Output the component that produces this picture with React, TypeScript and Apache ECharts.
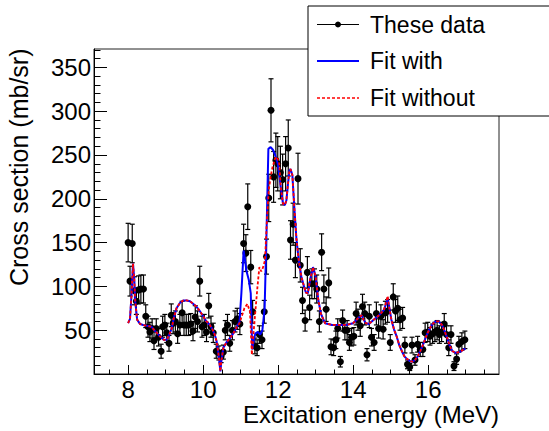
import React, { useEffect, useRef } from "react";
import * as echarts from "echarts";

// Measured data points: excitation energy (MeV), cross section (mb/sr), error
const energy = [8.0, 8.05, 8.11, 8.17, 8.22, 8.28, 8.34, 8.41, 8.47, 8.53, 8.58, 8.64, 8.69, 8.75, 8.81, 8.88, 8.92, 8.98,
  9.03, 9.09, 9.15, 9.2, 9.26, 9.32, 9.38, 9.44, 9.49, 9.55, 9.61, 9.67, 9.73, 9.79, 9.85, 9.91, 9.97,
  10.03, 10.09, 10.15, 10.21, 10.27, 10.35, 10.42, 10.48, 10.54, 10.59, 10.65, 10.71, 10.78, 10.85, 10.91, 10.98,
  11.08, 11.14, 11.19, 11.27, 11.32, 11.38, 11.44, 11.5, 11.57, 11.63, 11.69, 11.75, 11.81, 11.88, 11.94, 11.99,
  12.06, 12.12, 12.2, 12.27, 12.33, 12.4, 12.46, 12.53, 12.59, 12.65, 12.72, 12.78, 12.84, 12.9, 12.97,
  13.03, 13.1, 13.16, 13.22, 13.28, 13.35, 13.41, 13.48, 13.54, 13.59, 13.66, 13.72, 13.78, 13.84, 13.9, 13.96,
  14.02, 14.08, 14.13, 14.19, 14.25, 14.31, 14.37, 14.43, 14.49, 14.56, 14.62, 14.68, 14.74, 14.8, 14.86, 14.92, 14.99,
  15.07, 15.13, 15.19, 15.25, 15.32, 15.38, 15.45, 15.51, 15.57, 15.65, 15.72, 15.79, 15.86, 15.92, 15.99,
  16.05, 16.12, 16.18, 16.24, 16.3, 16.36, 16.43, 16.49, 16.55, 16.61, 16.69, 16.76, 16.82, 16.9, 16.98];

const crossSection = [150, 106, 149, 95, 83, 96, 97, 97, 66, 54, 48, 52, 38, 52, 42, 26, 54, 56,
  47, 35, 67, 58, 60, 46, 56, 70, 56, 56, 56, 57, 49, 65, 60, 106, 54,
  56, 48, 78, 54, 47, 26, 24, 20, 25, 50, 56, 35, 50, 60, 63, 57,
  149, 138, 191, 122, 71, 32, 30, 45, 39, 71, 134, 201, 301, 225, 244, 240,
  230, 222, 240, 258, 153, 171, 130, 223, 124, 84, 61, 116, 76, 103, 103,
  97, 60, 139, 97, 74, 104, 31, 30, 39, 52, 14, 61, 50, 50, 36, 42,
  43, 69, 62, 55, 77, 69, 22, 66, 42, 36, 69, 52, 66, 51, 70, 72, 36,
  88, 72, 75, 62, 64, 33, 11, 8, 33, 16, 34, 28, 28, 47, 48,
  43, 46, 48, 50, 45, 48, 57, 45, 30, 45, 9, 17, 34, 37, 39];

const crossSectionErr = [22, 17, 22, 16, 15, 16, 16, 16, 13, 12, 11, 11, 10, 11, 10, 8, 12, 12,
  11, 9, 13, 12, 12, 11, 12, 13, 12, 12, 12, 12, 11, 13, 12, 17, 12,
  12, 11, 14, 12, 11, 8, 8, 7, 8, 11, 12, 9, 11, 12, 12, 12,
  22, 21, 26, 19, 13, 9, 9, 10, 10, 13, 20, 27, 36, 29, 31, 31,
  30, 29, 31, 32, 22, 24, 20, 29, 19, 15, 12, 18, 14, 17, 17,
  16, 12, 21, 16, 14, 17, 9, 9, 10, 11, 6, 12, 11, 11, 9, 10,
  10, 13, 12, 12, 14, 13, 7, 13, 10, 9, 13, 11, 13, 11, 13, 13, 9,
  15, 13, 14, 12, 12, 9, 5, 4, 9, 6, 9, 8, 8, 11, 11,
  10, 11, 11, 11, 10, 11, 12, 10, 9, 10, 5, 6, 9, 10, 10];

// Fit with (blue)
const fitWithE = [8.0, 8.05, 8.09, 8.13, 8.16, 8.19, 8.24, 8.32, 8.4, 8.5, 8.62, 8.72, 8.85, 8.95, 9.02, 9.08, 9.16, 9.22, 9.29, 9.38,
  9.47, 9.56, 9.65, 9.74, 9.82, 9.91, 10.0, 10.09, 10.18, 10.25, 10.31, 10.36, 10.4, 10.43, 10.46, 10.49, 10.54, 10.62, 10.7, 10.8,
  10.89, 10.97, 11.02, 11.08, 11.16, 11.22, 11.27, 11.31, 11.35, 11.39, 11.46, 11.52, 11.58, 11.64, 11.69, 11.74, 11.8, 11.86, 11.92, 11.99,
  12.07, 12.13, 12.18, 12.22, 12.26, 12.3, 12.33, 12.38, 12.43, 12.49, 12.55, 12.62, 12.69, 12.74, 12.79, 12.86, 12.93, 13.0, 13.07, 13.14,
  13.25, 13.44, 13.81, 14.0, 14.14, 14.23, 14.28, 14.34, 14.42, 14.55, 14.69, 14.82, 14.88, 14.92, 14.96, 15.02, 15.09, 15.16, 15.23, 15.3,
  15.37, 15.44, 15.51, 15.58, 15.65, 15.72, 15.79, 15.86, 15.93, 16.0, 16.07, 16.14, 16.21, 16.28, 16.37, 16.44, 16.51, 16.58, 16.65, 16.74,
  16.81, 16.88, 16.94, 17.0];
const fitWithV = [58, 63, 90, 126, 110, 83, 62, 57, 56, 55, 54, 49, 43, 39, 39, 43, 52, 64, 75, 81,
  84, 84, 83, 80, 77, 72, 66, 60, 56, 51, 45, 37, 26, 15, 3, 16, 30, 36, 40, 46,
  53, 60, 92, 141, 117, 107, 92, 28, 38, 46, 48, 45, 50, 75, 160, 257, 259, 256, 250, 240,
  214, 194, 193, 198, 216, 232, 234, 227, 191, 153, 130, 111, 100, 93, 92, 109, 122, 111, 85, 69,
  58, 56, 56, 58, 64, 67, 62, 58, 57, 62, 67, 73, 80, 87, 77, 62, 51, 43, 33, 26,
  20, 17, 15, 14, 16, 20, 26, 33, 41, 48, 54, 58, 60, 60, 56, 49, 41, 32, 26, 24,
  25, 26, 28, 29];

// Fit without (red dashed)
const fitWithoutE = [8.0, 8.05, 8.09, 8.13, 8.16, 8.19, 8.24, 8.32, 8.4, 8.5, 8.62, 8.72, 8.85, 8.95, 9.02, 9.08, 9.16, 9.22, 9.29, 9.38,
  9.47, 9.56, 9.65, 9.74, 9.82, 9.91, 10.0, 10.09, 10.18, 10.25, 10.31, 10.36, 10.4, 10.43, 10.46, 10.49, 10.54, 10.62, 10.7, 10.8,
  10.89, 10.97, 11.04, 11.1, 11.18, 11.25, 11.3, 11.35, 11.4, 11.45, 11.5, 11.55, 11.6, 11.65, 11.7, 11.75, 11.8, 11.85, 11.92, 11.97,
  12.03, 12.07, 12.13, 12.18, 12.22, 12.26, 12.3, 12.33, 12.38, 12.43, 12.49, 12.55, 12.62, 12.69, 12.74, 12.79, 12.86, 12.93, 13.0, 13.07, 13.14,
  13.25, 13.44, 13.81, 14.0, 14.14, 14.23, 14.28, 14.34, 14.42, 14.55, 14.69, 14.82, 14.88, 14.92, 14.96, 15.02, 15.09, 15.16, 15.23, 15.3,
  15.37, 15.44, 15.51, 15.58, 15.65, 15.72, 15.79, 15.86, 15.93, 16.0, 16.07, 16.14, 16.21, 16.28, 16.37, 16.44, 16.51, 16.58, 16.65, 16.74,
  16.81, 16.88, 16.94, 17.0];
const fitWithoutV = [58, 63, 90, 126, 110, 83, 62, 57, 56, 55, 54, 49, 43, 39, 39, 43, 52, 64, 75, 81,
  84, 84, 83, 80, 77, 72, 66, 60, 56, 51, 45, 37, 26, 15, 3, 16, 30, 36, 40, 46,
  53, 58, 67, 75, 80, 71, 22, 50, 75, 100, 122, 117, 122, 130, 175, 210, 225, 236, 246, 248,
  240, 214, 194, 193, 198, 216, 232, 234, 227, 191, 153, 130, 111, 100, 93, 92, 109, 122, 111, 85, 69,
  58, 56, 56, 58, 64, 67, 62, 58, 57, 62, 67, 73, 82, 89, 77, 62, 51, 43, 33, 26,
  20, 17, 15, 14, 16, 20, 26, 33, 41, 48, 54, 58, 60, 60, 56, 49, 41, 32, 26, 24,
  25, 26, 28, 29];

// Axis ticks
const xTickLabels = [8, 10, 12, 14, 16];
const xMinorTicks = [7.5, 8.5, 9, 9.5, 10.5, 11, 11.5, 12.5, 13, 13.5, 14.5, 15, 15.5, 16.5, 17, 17.5];
const yTickLabels = [50, 100, 150, 200, 250, 300, 350];
const yMinorTicks = [10, 20, 30, 40, 60, 70, 80, 90, 110, 120, 130, 140, 160, 170, 180, 190, 210, 220, 230, 240,
  260, 270, 280, 290, 310, 320, 330, 340, 360, 370];

const legendLabels = ["These data", "Fit with", "Fit without"];

const FONT = "'Liberation Sans', Arial, Helvetica, sans-serif";

export default function App() {
  const ref = useRef<HTMLDivElement>(null);
  useEffect(() => {
    if (!ref.current) return;
    const chart = echarts.init(ref.current, undefined, { renderer: "svg" });
    const xMin = 7.09;
    const xMax = 17.89;
    const yMin = 0;
    const yMax = 371;
    const points = energy.map((e, i) => [e, crossSection[i], crossSectionErr[i]]);
    const withData = fitWithE.map((e, i) => [e, fitWithV[i]]);
    const withoutData = fitWithoutE.map((e, i) => [e, fitWithoutV[i]]);

    const baseX = {
      type: "value" as const,
      min: xMin,
      max: xMax,
      position: "bottom" as const,
      splitLine: { show: false },
    };
    const baseY = {
      type: "value" as const,
      min: yMin,
      max: yMax,
      position: "left" as const,
      splitLine: { show: false },
    };

    chart.setOption({
      animation: false,
      backgroundColor: "#fff",
      grid: {
        left: 94,
        top: 49,
        right: 50,
        bottom: 57,
        show: true,
        borderColor: "#222",
        borderWidth: 1,
        backgroundColor: "transparent",
      },
      xAxis: [
        {
          ...baseX,
          axisLine: { show: true, onZero: false, lineStyle: { color: "#000", width: 1 } },
          axisTick: { show: true, inside: true, length: 9, customValues: xTickLabels, lineStyle: { color: "#000" } },
          axisLabel: {
            show: true,
            customValues: xTickLabels,
            color: "#000",
            fontSize: 24,
            lineHeight: 18,
            fontFamily: FONT,
            margin: 6,
          },
        },
        {
          ...baseX,
          axisLine: { show: false },
          axisTick: { show: true, inside: true, length: 4.5, customValues: xMinorTicks, lineStyle: { color: "#000" } },
          axisLabel: { show: false },
        },
      ],
      yAxis: [
        {
          ...baseY,
          axisLine: { show: true, onZero: false, lineStyle: { color: "#000", width: 1 } },
          axisTick: { show: true, inside: true, length: 13, customValues: yTickLabels, lineStyle: { color: "#000" } },
          axisLabel: {
            show: true,
            customValues: yTickLabels,
            color: "#000",
            fontSize: 24,
            fontFamily: FONT,
            margin: 3,
          },
        },
        {
          ...baseY,
          axisLine: { show: false },
          axisTick: { show: true, inside: true, length: 6.5, customValues: yMinorTicks, lineStyle: { color: "#000" } },
          axisLabel: { show: false },
        },
      ],
      series: [
        {
          type: "custom",
          name: "errors",
          xAxisIndex: 0,
          yAxisIndex: 0,
          data: points,
          encode: { x: 0, y: 1 },
          z: 2,
          renderItem: (params: any, api: any) => {
            const x = api.value(0);
            const y = api.value(1);
            const e = api.value(2);
            const top = api.coord([x, y + e]);
            const bot = api.coord([x, y - e]);
            const cap = 2.5;
            const st = { stroke: "#000", lineWidth: 1.2 };
            return {
              type: "group",
              children: [
                { type: "line", shape: { x1: top[0], y1: top[1], x2: bot[0], y2: bot[1] }, style: st },
                { type: "line", shape: { x1: top[0] - cap, y1: top[1], x2: top[0] + cap, y2: top[1] }, style: st },
                { type: "line", shape: { x1: bot[0] - cap, y1: bot[1], x2: bot[0] + cap, y2: bot[1] }, style: st },
              ],
            };
          },
        },
        {
          type: "scatter",
          name: legendLabels[0],
          data: points.map((p) => [p[0], p[1]]),
          symbol: "circle",
          symbolSize: 7,
          itemStyle: { color: "#000", opacity: 1 },
          z: 3,
        },
        {
          type: "line",
          name: legendLabels[1],
          data: withData,
          showSymbol: false,
          lineStyle: { color: "#0000ff", width: 2 },
          z: 4,
        },
        {
          type: "line",
          name: legendLabels[2],
          data: withoutData,
          showSymbol: false,
          lineStyle: { color: "#ff0000", width: 1.8, type: [3, 2] },
          z: 5,
        },
      ],
      graphic: [
        {
          type: "text",
          x: 499,
          y: 414,
          style: {
            text: "Excitation energy (MeV)",
            fill: "#000",
            font: `24px ${FONT}`,
            lineHeight: 18,
            textAlign: "right",
            textVerticalAlign: "middle",
          },
        },
        {
          type: "text",
          x: 19,
          y: 48.5,
          rotation: Math.PI / 2,
          style: {
            text: "Cross section (mb/sr)",
            fill: "#000",
            font: `25px ${FONT}`,
            textAlign: "right",
            textVerticalAlign: "middle",
          },
        },
        {
          type: "group",
          z: 100,
          children: [
            {
              type: "rect",
              shape: { x: 308, y: 6, width: 250, height: 110 },
              style: { fill: "#fff", stroke: "#000", lineWidth: 1 },
            },
            { type: "line", shape: { x1: 317, y1: 24.5, x2: 359, y2: 24.5 }, style: { stroke: "#000", lineWidth: 1 } },
            { type: "circle", shape: { cx: 338, cy: 24.5, r: 3 }, style: { fill: "#000" } },
            { type: "line", shape: { x1: 317, y1: 61, x2: 359, y2: 61 }, style: { stroke: "#0000ff", lineWidth: 2 } },
            {
              type: "line",
              shape: { x1: 317, y1: 98, x2: 359, y2: 98 },
              style: { stroke: "#ff0000", lineWidth: 1.5, lineDash: [3, 2] },
            },
            {
              type: "text",
              x: 370,
              y: 24.5,
              style: { text: legendLabels[0], fill: "#000", font: `23px ${FONT}`, textVerticalAlign: "middle" },
            },
            {
              type: "text",
              x: 370,
              y: 61,
              style: { text: legendLabels[1], fill: "#000", font: `23px ${FONT}`, textVerticalAlign: "middle" },
            },
            {
              type: "text",
              x: 370,
              y: 98,
              style: { text: legendLabels[2], fill: "#000", font: `23px ${FONT}`, textVerticalAlign: "middle" },
            },
          ],
        },
      ],
    });
    return () => chart.dispose();
  }, []);
  return (
    <div
      ref={ref}
      style={{ position: "fixed", left: 0, top: 0, width: 549, height: 431, background: "#fff" }}
    />
  );
}
